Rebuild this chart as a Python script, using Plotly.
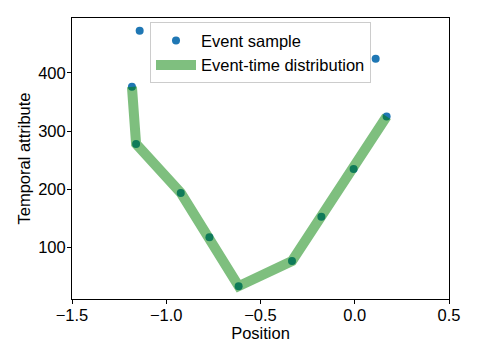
import plotly.graph_objects as go

# Event samples (all points)
sample_x = [-1.182, -1.160, -0.923, -0.771, -0.616, -0.333, -0.177, -0.006, 0.169, -1.141, 0.111]
sample_y = [376, 278, 194, 118, 34, 77, 153, 235, 325, 472, 424]

# Event-time distribution line
dist_x = [-1.182, -1.160, -0.923, -0.771, -0.616, -0.333, -0.177, -0.006, 0.169]
dist_y = [376, 278, 194, 118, 34, 77, 153, 235, 325]

x_tickvals = [-1.5, -1.0, -0.5, 0.0, 0.5]
x_ticktext = ["\u22121.5", "\u22121.0", "\u22120.5", "0.0", "0.5"]
y_tickvals = [100, 200, 300, 400]

FONT = "Liberation Sans, Arial, Helvetica, sans-serif"
FS = 16.5

fig = go.Figure()
fig.add_trace(go.Scatter(
    x=sample_x, y=sample_y, mode="markers", name="Event sample",
    marker=dict(color="#1f77b4", size=8, line=dict(width=0)),
))
fig.add_trace(go.Scatter(
    x=dist_x, y=dist_y, mode="lines", name="Event-time distribution",
    line=dict(color="#008000", width=10), opacity=0.5,
))

fig.update_layout(
    width=479, height=353,
    margin=dict(l=64, r=38, t=10, b=62),
    paper_bgcolor="white", plot_bgcolor="white",
    font=dict(family=FONT, size=FS, color="black"),
    showlegend=True,
    legend=dict(
        x=0.5, y=0.985, xanchor="center", yanchor="top",
        bgcolor="rgba(255,255,255,0.8)", bordercolor="#cccccc", borderwidth=1,
        font=dict(family=FONT, size=FS, color="black"),
        itemwidth=40, tracegroupgap=0,
    ),
    xaxis=dict(
        range=[-1.5, 0.5], tickmode="array", tickvals=x_tickvals, ticktext=x_ticktext,
        showline=True, linecolor="black", linewidth=1, mirror=True,
        ticks="outside", ticklen=4, tickcolor="black", tickwidth=1,
        showgrid=False, zeroline=False, ticklabelstandoff=-3,
        title=dict(text="Position", standoff=4, font=dict(size=FS)),
        tickfont=dict(size=FS),
    ),
    yaxis=dict(
        range=[12, 494], tickmode="array", tickvals=y_tickvals,
        showline=True, linecolor="black", linewidth=1, mirror=True,
        ticks="outside", ticklen=4, tickcolor="black", tickwidth=1,
        showgrid=False, zeroline=False, ticklabelstandoff=-2,
        title=dict(text="Temporal attribute", standoff=3, font=dict(size=FS)),
        tickfont=dict(size=FS),
    ),
)

fig.write_html("out.html")
